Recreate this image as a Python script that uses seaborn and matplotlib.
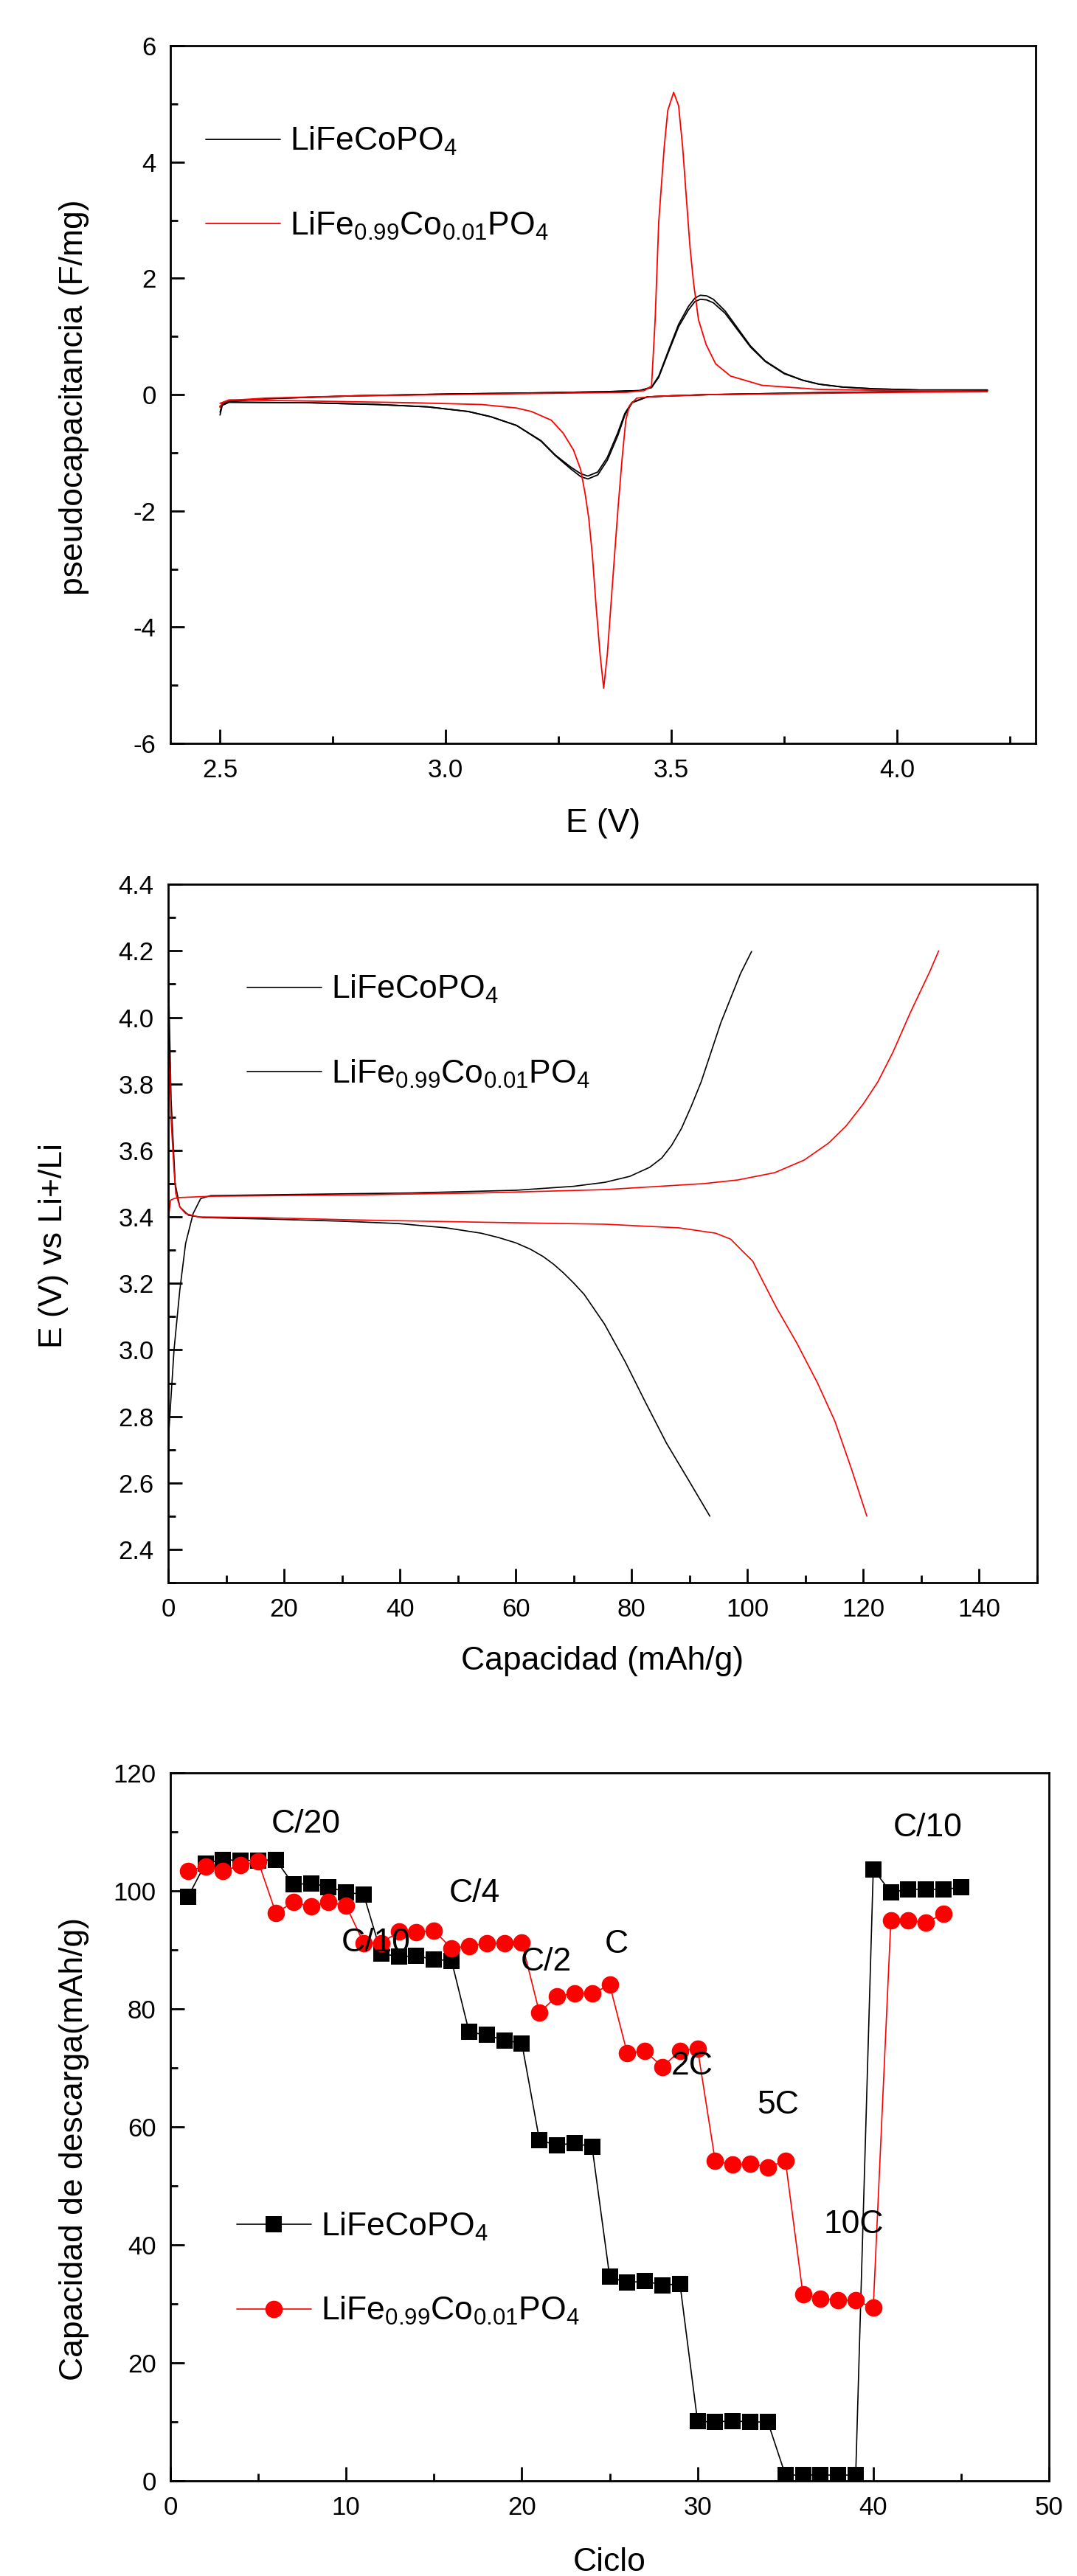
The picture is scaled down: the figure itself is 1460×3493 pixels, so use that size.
import matplotlib
matplotlib.use('Agg')
import matplotlib.pyplot as plt
import seaborn as sns
import pandas as pd
from matplotlib.lines import Line2D
from matplotlib.ticker import MultipleLocator

sns.set_theme(style='ticks')
plt.rcParams['font.family'] = ['Liberation Sans', 'DejaVu Sans']
plt.rcParams['mathtext.fontset'] = 'custom'
plt.rcParams['mathtext.rm'] = 'Liberation Sans'
plt.rcParams['mathtext.it'] = 'Liberation Sans:italic'
plt.rcParams['mathtext.bf'] = 'Liberation Sans:bold'
plt.rcParams['axes.unicode_minus'] = False
for k in ['axes.edgecolor', 'text.color', 'xtick.color', 'ytick.color', 'axes.labelcolor']:
    plt.rcParams[k] = 'black'

# Etiquetas de las muestras
lab_a = r'LiFeCoPO$_4$'
lab_b = r'LiFe$_{0.99}$Co$_{0.01}$PO$_4$'

# ---- Voltametria ciclica (E en V, pseudocapacitancia en F/mg) ----
cv_e_ox_negro = [2.500, 2.505, 2.52, 2.60, 2.80, 3.00, 3.20, 3.35, 3.43, 3.456, 3.472, 3.495, 3.516, 3.538,
                 3.552, 3.564, 3.578, 3.593, 3.619, 3.647, 3.675, 3.708, 3.75, 3.79, 3.827, 3.88, 3.95, 4.05, 4.20]
cv_i_ox_negro1 = [-0.35, -0.18, -0.12, -0.07, -0.02, 0.01, 0.03, 0.05, 0.07, 0.13, 0.32, 0.79, 1.21, 1.52,
                  1.66, 1.71, 1.70, 1.64, 1.44, 1.14, 0.84, 0.58, 0.37, 0.25, 0.18, 0.13, 0.10, 0.08, 0.08]
cv_i_ox_negro2 = [-0.30, -0.16, -0.11, -0.07, -0.02, 0.01, 0.03, 0.05, 0.07, 0.12, 0.30, 0.76, 1.17, 1.46,
                  1.60, 1.64, 1.63, 1.58, 1.40, 1.11, 0.82, 0.57, 0.36, 0.25, 0.18, 0.13, 0.10, 0.08, 0.08]
cv_e_red_negro = [4.20, 4.00, 3.80, 3.58, 3.50, 3.446, 3.413, 3.397, 3.381, 3.358, 3.337, 3.315, 3.299, 3.276,
                  3.243, 3.211, 3.157, 3.10, 3.05, 2.96, 2.85, 2.70, 2.52, 2.50]
cv_i_red_negro1 = [0.07, 0.05, 0.03, 0.0, -0.02, -0.04, -0.13, -0.32, -0.66, -1.08, -1.33, -1.40, -1.36, -1.24,
                   -1.04, -0.79, -0.53, -0.38, -0.29, -0.21, -0.17, -0.14, -0.13, -0.20]
cv_i_red_negro2 = [0.07, 0.05, 0.03, 0.0, -0.02, -0.04, -0.14, -0.35, -0.71, -1.13, -1.38, -1.45, -1.41, -1.27,
                   -1.05, -0.80, -0.53, -0.38, -0.29, -0.21, -0.17, -0.14, -0.13, -0.20]

cv_e_ox_rojo = [2.50, 2.505, 2.52, 2.60, 2.80, 3.00, 3.20, 3.40, 3.44, 3.456, 3.464, 3.472, 3.484, 3.492,
                3.505, 3.516, 3.525, 3.533, 3.541, 3.549, 3.560, 3.577, 3.598, 3.631, 3.701, 3.827, 4.00, 4.20]
cv_i_ox_rojo = [-0.22, -0.14, -0.10, -0.06, -0.02, 0.0, 0.02, 0.04, 0.07, 0.15, 1.29, 2.98, 4.25, 4.89,
                5.20, 4.97, 4.25, 3.40, 2.56, 1.93, 1.29, 0.86, 0.53, 0.32, 0.16, 0.09, 0.07, 0.06]
cv_e_red_rojo = [4.20, 4.00, 3.80, 3.582, 3.462, 3.423, 3.407, 3.399, 3.391, 3.382, 3.374, 3.366, 3.358, 3.350,
                 3.342, 3.333, 3.325, 3.317, 3.309, 3.299, 3.283, 3.26, 3.234, 3.19, 3.157, 3.08, 2.93, 2.70,
                 2.52, 2.50]
cv_i_red_rojo = [0.05, 0.04, 0.02, 0.0, -0.03, -0.06, -0.19, -0.44, -1.08, -1.93, -2.77, -3.62, -4.47, -5.05,
                 -4.47, -3.62, -2.77, -2.13, -1.71, -1.29, -0.95, -0.66, -0.44, -0.29, -0.23, -0.17, -0.14,
                 -0.11, -0.09, -0.15]

# ---- Curvas de carga / descarga (mAh/g, V) ----
carga_cap_negro = [0.0, 0.13, 1.0, 2.0, 3.0, 4.3, 5.6, 7.3, 20, 42, 60, 70, 75.4, 79.7, 83.1, 85.2, 86.9,
                   88.6, 90.3, 92.0, 93.7, 95.4, 97.1, 98.8, 100.7]
carga_v_negro = [2.65, 2.76, 3.0, 3.18, 3.32, 3.41, 3.455, 3.464, 3.467, 3.472, 3.48, 3.492, 3.504, 3.522,
                 3.549, 3.577, 3.615, 3.666, 3.733, 3.806, 3.895, 3.984, 4.058, 4.132, 4.198]
desc_cap_negro = [0.0, 0.5, 1.2, 2.0, 3.5, 6, 18.4, 30, 39.7, 48, 54, 57, 60, 62.5, 64.7, 66.5, 68.2, 70,
                  71.8, 75.3, 78.9, 82.4, 86, 89.6, 93.5]
desc_v_negro = [4.15, 3.75, 3.50, 3.43, 3.405, 3.398, 3.393, 3.387, 3.38, 3.367, 3.351, 3.338, 3.322, 3.303,
                3.281, 3.258, 3.232, 3.201, 3.167, 3.078, 2.964, 2.842, 2.72, 2.615, 2.5]
carga_cap_rojo = [0.0, 0.05, 0.4, 1.0, 1.8, 7.3, 31.8, 54, 75.4, 92.4, 98.3, 104.7, 109.8, 114.0, 117.0,
                  120.0, 122.5, 125.1, 128.1, 131.5, 133.0]
carga_v_rojo = [3.30, 3.40, 3.45, 3.455, 3.458, 3.462, 3.466, 3.472, 3.482, 3.50, 3.511, 3.533, 3.571, 3.622,
                3.673, 3.74, 3.806, 3.895, 4.014, 4.139, 4.2]
desc_cap_rojo = [0.0, 0.13, 0.5, 1.0, 1.3, 2.0, 3.0, 5.2, 15.7, 31.8, 54, 75.4, 88.2, 94.5, 97.1, 99.2,
                 100.9, 102.6, 105, 108.5, 112.1, 115.1, 118, 120.6]
desc_v_rojo = [4.2, 3.91, 3.69, 3.54, 3.47, 3.43, 3.41, 3.40, 3.398, 3.391, 3.384, 3.378, 3.367, 3.351, 3.333,
               3.296, 3.267, 3.208, 3.127, 3.021, 2.9, 2.785, 2.639, 2.5]

# ---- Capacidad de descarga por ciclo ----
ciclo_negro = list(range(1, 46))
cap_ciclo_negro = [99.0, 104.7, 105.3, 105.2, 105.2, 105.3, 101.1, 101.3, 100.7, 99.8,
                   99.4, 89.4, 88.9, 89.0, 88.4, 88.2, 76.1, 75.6, 74.7, 74.2,
                   57.8, 56.9, 57.3, 56.6, 34.6, 33.6, 33.9, 33.2, 33.4, 10.1,
                   10.0, 10.2, 10.0, 10.0, 1.0, 1.0, 1.0, 1.0, 1.0, 103.7,
                   99.8, 100.3, 100.3, 100.3, 100.6]
ciclo_rojo = list(range(1, 45))
cap_ciclo_rojo = [103.4, 104.2, 103.4, 104.4, 105.0, 96.3, 98.1, 97.4, 98.1, 97.5,
                  91.2, 91.2, 93.1, 93.0, 93.3, 90.3, 90.7, 91.1, 91.2, 91.3,
                  79.4, 82.2, 82.6, 82.6, 84.1, 72.5, 72.9, 70.2, 72.9, 73.3,
                  54.3, 53.6, 53.8, 53.2, 54.3, 31.6, 30.9, 30.7, 30.6, 29.4,
                  95.0, 95.0, 94.7, 96.1]
tasas = ['C/20', 'C/10', 'C/4', 'C/2', 'C', '2C', '5C', '10C', 'C/10']
tasas_x = [7.7, 11.7, 17.3, 21.4, 25.4, 29.7, 34.6, 38.9, 43.1]
tasas_y = [111.4, 91.2, 99.6, 88.0, 91.0, 70.3, 63.7, 43.4, 110.7]


def estilo(ax, xmaj, xmin, ymaj, ymin):
    for s in ax.spines.values():
        s.set_linewidth(2.0)
        s.set_color('black')
    ax.tick_params(which='both', direction='in', top=False, right=False, width=2.0,
                   labelsize=25, pad=14)
    ax.tick_params(which='major', length=14)
    ax.tick_params(which='minor', length=7)
    ax.xaxis.set_major_locator(MultipleLocator(xmaj))
    ax.xaxis.set_minor_locator(MultipleLocator(xmin))
    ax.yaxis.set_major_locator(MultipleLocator(ymaj))
    ax.yaxis.set_minor_locator(MultipleLocator(ymin))


def leyenda(ax, handles, x0, y_mid):
    ax.legend(handles, [lab_a, lab_b], loc='center left', bbox_to_anchor=(x0, y_mid),
              frameon=False, fontsize=32, handlelength=2.27, handletextpad=0.3,
              labelspacing=1.6, borderpad=0, borderaxespad=0)


fig = plt.figure(figsize=(14.6, 34.93), dpi=100)

# Panel 1: voltametria
ax1 = fig.add_axes([0.1582, 0.7114, 0.8034, 0.2708])
for e, i in [(cv_e_ox_negro, cv_i_ox_negro1), (cv_e_ox_negro, cv_i_ox_negro2),
             (cv_e_red_negro, cv_i_red_negro1), (cv_e_red_negro, cv_i_red_negro2)]:
    sns.lineplot(x=e, y=i, sort=False, estimator=None, color='black', linewidth=1.3, ax=ax1)
for e, i in [(cv_e_ox_rojo, cv_i_ox_rojo), (cv_e_red_rojo, cv_i_red_rojo)]:
    sns.lineplot(x=e, y=i, sort=False, estimator=None, color='red', linewidth=1.3, ax=ax1)
ax1.set_xlim(2.39, 4.307)
ax1.set_ylim(-6, 6)
estilo(ax1, 0.5, 0.25, 2, 1)
ax1.set_xlabel('E (V)', fontsize=32)
ax1.set_ylabel('pseudocapacitancia (F/mg)', fontsize=32)
ax1.xaxis.set_label_coords(0.5, -0.093)
ax1.yaxis.set_label_coords(-0.0938, 0.496)
leyenda(ax1, [Line2D([], [], color='black', lw=1.3), Line2D([], [], color='red', lw=1.3)],
        0.041, (0.869 + 0.736) / 2)

# Panel 2: carga / descarga
ax2 = fig.add_axes([0.1562, 0.3856, 0.8068, 0.2711])
for c, v in [(carga_cap_negro, carga_v_negro), (desc_cap_negro, desc_v_negro)]:
    sns.lineplot(x=c, y=v, sort=False, estimator=None, color='black', linewidth=1.2, ax=ax2)
for c, v in [(carga_cap_rojo, carga_v_rojo), (desc_cap_rojo, desc_v_rojo)]:
    sns.lineplot(x=c, y=v, sort=False, estimator=None, color='red', linewidth=1.2, ax=ax2)
ax2.set_xlim(0, 150)
ax2.set_ylim(2.3, 4.4)
estilo(ax2, 20, 10, 0.2, 0.1)
ax2.set_xlabel('Capacidad (mAh/g)', fontsize=32)
ax2.set_ylabel('E (V) vs Li+/Li', fontsize=32)
ax2.xaxis.set_label_coords(0.5, -0.091)
ax2.yaxis.set_label_coords(-0.1146, 0.483)
leyenda(ax2, [Line2D([], [], color='black', lw=1.2), Line2D([], [], color='black', lw=1.2)],
        0.091, (0.856 + 0.722) / 2)

# Panel 3: capacidad vs ciclo
ax3 = fig.add_axes([0.1582, 0.0369, 0.8158, 0.2748])
df_n = pd.DataFrame({'Ciclo': ciclo_negro, 'Cap': cap_ciclo_negro})
df_r = pd.DataFrame({'Ciclo': ciclo_rojo, 'Cap': cap_ciclo_rojo})
sns.lineplot(data=df_n, x='Ciclo', y='Cap', color='black', marker='s', markersize=16,
             markeredgewidth=0, linewidth=1.2, legend=False, ax=ax3)
sns.lineplot(data=df_r, x='Ciclo', y='Cap', color='red', marker='o', markersize=17,
             markeredgewidth=0, linewidth=1.2, legend=False, ax=ax3)
for t, x, y in zip(tasas, tasas_x, tasas_y):
    ax3.text(x, y, t, fontsize=32, ha='center', va='center')
ax3.set_xlim(0, 50)
ax3.set_ylim(0, 120)
estilo(ax3, 10, 5, 20, 10)
ax3.set_xlabel('Ciclo', fontsize=32)
ax3.set_ylabel('Capacidad de descarga(mAh/g)', fontsize=32)
ax3.xaxis.set_label_coords(0.5, -0.094)
ax3.yaxis.set_label_coords(-0.0924, 0.469)
leyenda(ax3, [Line2D([], [], color='black', lw=1.2, marker='s', markersize=16, markeredgewidth=0),
              Line2D([], [], color='red', lw=1.2, marker='o', markersize=17, markeredgewidth=0)],
        0.0756, (0.367 + 0.232) / 2)

fig.savefig('out.png', dpi=100)
